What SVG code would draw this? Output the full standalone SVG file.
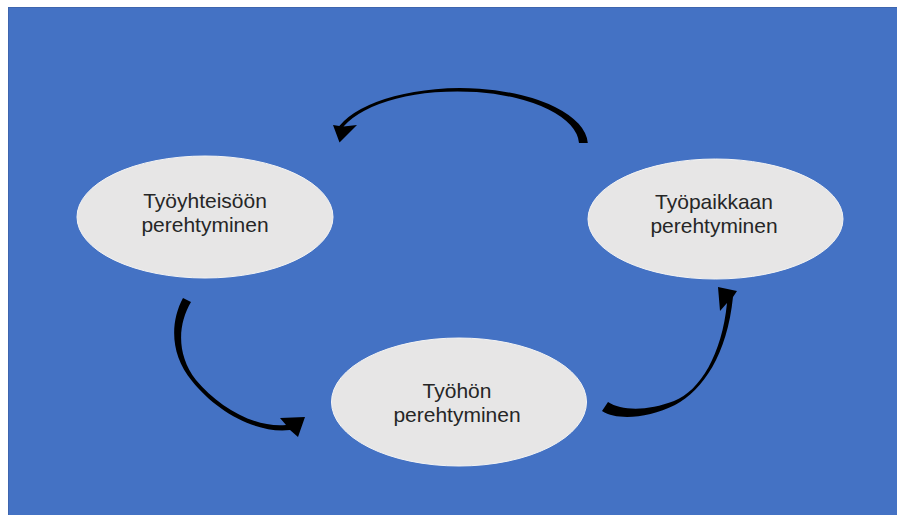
<svg xmlns="http://www.w3.org/2000/svg" width="897" height="515" viewBox="0 0 897 515">
  <style>
    .node ellipse { fill: #E7E6E6; stroke: #F4F4F4; stroke-width: 1; }
    .node text { font-family: "Liberation Sans", Arial, sans-serif; font-size: 21px; fill: #262626; text-anchor: middle; }
    .arrow { fill: #000000; stroke: none; }
  </style>
  <rect x="0" y="0" width="897" height="515" fill="#FFFFFF"/>
  <rect x="8.5" y="7.5" width="890" height="510" fill="#4472C4" stroke="#3E65AE" stroke-width="1"/>

  <g id="connectors">
    <path class="arrow" d="M587.8,143 A128 57 0 0 0 339.3,126 L333,125 L339.5,142.5 L357,125 L343.5,126.5 A121.5 53.5 0 0 1 579,143 Z"/>
    <path class="arrow" d="M183,298 C170,322 170,355 192,381 C215,410 255,434 290,430 L298,437 L305,417 L280,418 L286,425 C253,428 218,406 196,380 C176,354 178,324 191,302 Z"/>
    <path class="arrow" d="M602,411 C618,421 648,418 675,405 C703,390 727,355 733,297 L737,291 L718,287 L720,311 L727,303 C722,354 700,391 674,401 C648,411 622,411 608,402 Z"/>
  </g>

  <g id="node-tyoyhteisoon" class="node">
    <ellipse cx="205" cy="217" rx="128" ry="61"/>
    <text x="205" y="208">Työyhteisöön</text>
    <text x="205" y="232">perehtyminen</text>
  </g>
  <g id="node-tyopaikkaan" class="node">
    <ellipse cx="715.5" cy="219" rx="127.5" ry="60"/>
    <text x="714" y="209">Työpaikkaan</text>
    <text x="714" y="233">perehtyminen</text>
  </g>
  <g id="node-tyohon" class="node">
    <ellipse cx="459" cy="402" rx="127.5" ry="64"/>
    <text x="457" y="398">Työhön</text>
    <text x="457" y="422">perehtyminen</text>
  </g>
</svg>
